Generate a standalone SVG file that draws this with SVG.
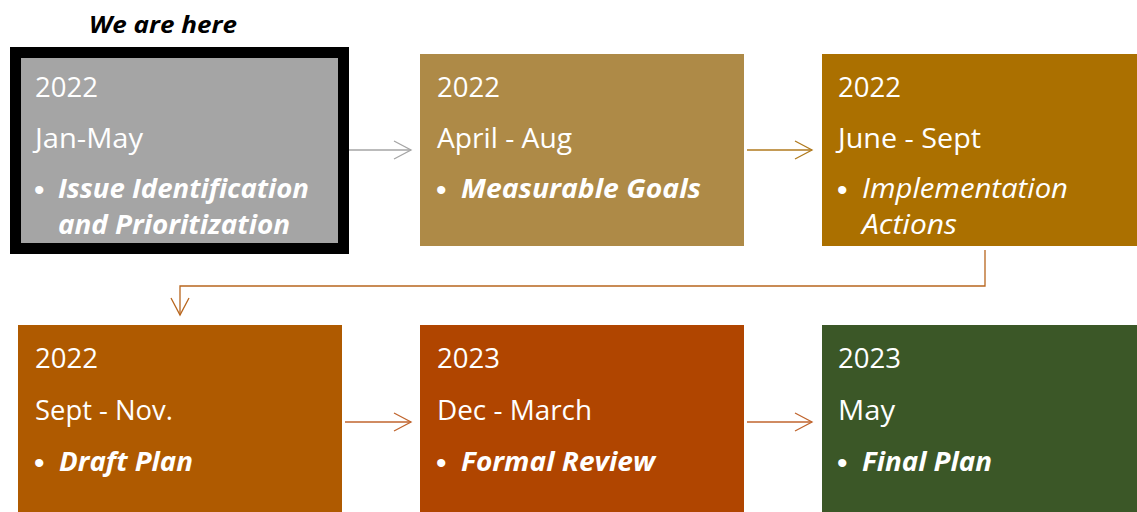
<svg xmlns="http://www.w3.org/2000/svg" width="1137" height="512" viewBox="0 0 1137 512">
<style>
.t{font-family:"Open Sans","Noto Sans",sans-serif;font-size:27px;fill:#ffffff}
.d{font-family:"Liberation Sans",sans-serif;font-size:30px;fill:#ffffff}
.b{font-weight:bold;font-style:italic}
.i{font-style:italic}
.c{fill:none;stroke-width:1.3}
</style>
<defs>
<marker id="ag" markerWidth="20" markerHeight="22" refX="18" refY="11" orient="auto" markerUnits="userSpaceOnUse"><path d="M1,2 L18,11 L1,20" fill="none" stroke="#a5a5a5" stroke-width="1.3"/></marker>
<marker id="ay" markerWidth="20" markerHeight="22" refX="18" refY="11" orient="auto" markerUnits="userSpaceOnUse"><path d="M1,2 L18,11 L1,20" fill="none" stroke="#b07a1e" stroke-width="1.3"/></marker>
<marker id="ao" markerWidth="20" markerHeight="22" refX="18" refY="11" orient="auto" markerUnits="userSpaceOnUse"><path d="M1,2 L18,11 L1,20" fill="none" stroke="#b8661e" stroke-width="1.3"/></marker>
<marker id="ar" markerWidth="20" markerHeight="22" refX="18" refY="11" orient="auto" markerUnits="userSpaceOnUse"><path d="M1,2 L18,11 L1,20" fill="none" stroke="#c0652e" stroke-width="1.3"/></marker>
</defs>
<rect width="1137" height="512" fill="#ffffff"/>
<text x="163" y="33" text-anchor="middle" font-family="'Open Sans','Noto Sans',sans-serif" font-size="24" font-weight="bold" font-style="italic" fill="#000" textLength="148" lengthAdjust="spacingAndGlyphs">We are here</text>
<g id="connectors">
<path class="c" d="M349,150 H411" stroke="#a5a5a5" marker-end="url(#ag)"/>
<path class="c" d="M747,150 H812" stroke="#b07a1e" marker-end="url(#ay)"/>
<path class="c" d="M985,250 V286 H180 V315" stroke="#b8661e" marker-end="url(#ao)"/>
<path class="c" d="M345,422 H411" stroke="#c0652e" marker-end="url(#ar)"/>
<path class="c" d="M747,422 H812" stroke="#c0652e" marker-end="url(#ar)"/>
</g>
<g id="node1">
<rect x="15.5" y="52.5" width="328" height="196" fill="#a5a5a5" stroke="#000" stroke-width="11"/>
<text class="t" x="35" y="97" textLength="63" lengthAdjust="spacingAndGlyphs">2022</text>
<text class="t" x="35" y="148" textLength="108" lengthAdjust="spacingAndGlyphs">Jan-May</text>
<text class="d" x="34" y="200">•</text>
<text class="t b" x="58" y="198" textLength="251" lengthAdjust="spacingAndGlyphs">Issue Identification</text>
<text class="t b" x="58" y="234" textLength="232" lengthAdjust="spacingAndGlyphs">and Prioritization</text>
</g>
<g id="node2">
<rect x="420" y="54" width="324" height="192" fill="#ae8a47"/>
<text class="t" x="437" y="97" textLength="63" lengthAdjust="spacingAndGlyphs">2022</text>
<text class="t" x="437" y="148" textLength="135" lengthAdjust="spacingAndGlyphs">April - Aug</text>
<text class="d" x="436" y="200">•</text>
<text class="t b" x="461" y="198" textLength="240" lengthAdjust="spacingAndGlyphs">Measurable Goals</text>
</g>
<g id="node3">
<rect x="822" y="54" width="315" height="192" fill="#ab7000"/>
<text class="t" x="838" y="97" textLength="63" lengthAdjust="spacingAndGlyphs">2022</text>
<text class="t" x="838" y="148" textLength="143" lengthAdjust="spacingAndGlyphs">June - Sept</text>
<text class="d" x="837" y="200">•</text>
<text class="t i" x="862" y="198" textLength="206" lengthAdjust="spacingAndGlyphs">Implementation</text>
<text class="t i" x="862" y="234" textLength="95" lengthAdjust="spacingAndGlyphs">Actions</text>
</g>
<g id="node4">
<rect x="18" y="325" width="324" height="187" fill="#af5a00"/>
<text class="t" x="35" y="368" textLength="63" lengthAdjust="spacingAndGlyphs">2022</text>
<text class="t" x="35" y="420" textLength="138" lengthAdjust="spacingAndGlyphs">Sept - Nov.</text>
<text class="d" x="34" y="473">•</text>
<text class="t b" x="59" y="471" textLength="134" lengthAdjust="spacingAndGlyphs">Draft Plan</text>
</g>
<g id="node5">
<rect x="420" y="325" width="324" height="187" fill="#b04500"/>
<text class="t" x="437" y="368" textLength="63" lengthAdjust="spacingAndGlyphs">2023</text>
<text class="t" x="437" y="420" textLength="155" lengthAdjust="spacingAndGlyphs">Dec - March</text>
<text class="d" x="436" y="473">•</text>
<text class="t b" x="461" y="471" textLength="194" lengthAdjust="spacingAndGlyphs">Formal Review</text>
</g>
<g id="node6">
<rect x="822" y="325" width="315" height="187" fill="#3b5727"/>
<text class="t" x="838" y="368" textLength="63" lengthAdjust="spacingAndGlyphs">2023</text>
<text class="t" x="838" y="420" textLength="57" lengthAdjust="spacingAndGlyphs">May</text>
<text class="d" x="837" y="473">•</text>
<text class="t b" x="862" y="471" textLength="130" lengthAdjust="spacingAndGlyphs">Final Plan</text>
</g>
</svg>
